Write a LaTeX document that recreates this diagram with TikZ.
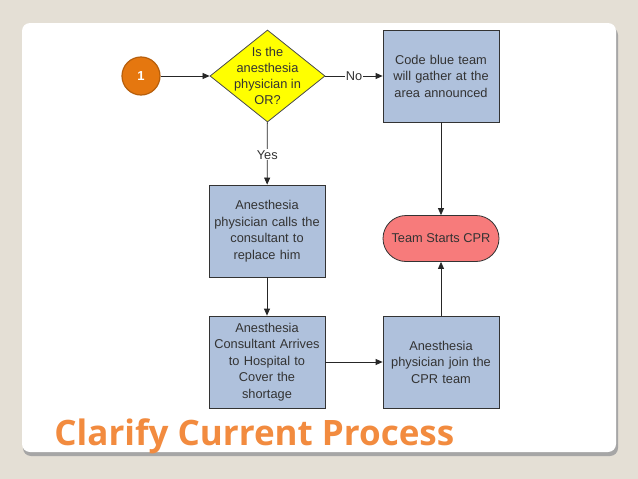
\documentclass[tikz,border=0pt]{standalone}
\usepackage{fontspec}
\setmainfont{Liberation Sans}
\newfontfamily\titlefont{Open Sans}
\usetikzlibrary{shapes.geometric,arrows.meta}
\definecolor{slidebg}{HTML}{E4DFD5}
\definecolor{stepblue}{HTML}{AFC1DC}
\definecolor{askyellow}{HTML}{FFFF00}
\definecolor{cprred}{HTML}{F77B7B}
\definecolor{numorange}{HTML}{E5770F}
\definecolor{titleorange}{HTML}{F28B3F}
\begin{document}
\begin{tikzpicture}[x=1pt,y=-1pt,>={Triangle[length=7pt,width=6pt]},line width=0.8pt]
  \tikzstyle{process}=[rectangle,draw=black!80,fill=stepblue,minimum width=116pt,minimum height=92pt,
    inner sep=2pt,text width=112pt,align=center,font=\fontsize{12.8}{16.5}\selectfont,text=black!80]
  \tikzstyle{decision}=[diamond,draw=black!70,fill=askyellow,minimum width=115pt,minimum height=92pt,inner sep=0pt]
  \tikzstyle{terminal}=[rectangle,rounded corners=23pt,draw=black!80,fill=cprred,minimum width=116pt,
    minimum height=46pt,inner sep=2pt,font=\fontsize{12.8}{16.5}\selectfont,text=black!80]
  \tikzstyle{number}=[circle,draw=numorange!80!black,line width=1.2pt,fill=numorange,minimum size=38pt,
    inner sep=0pt,text=white,font=\bfseries\fontsize{13}{14}\selectfont]
  \tikzstyle{flow}=[draw,->,black!85]
  \tikzstyle{answer}=[fill=white,inner sep=1pt,font=\fontsize{12.8}{16}\selectfont,text=black!80]
  % slide
  \fill[slidebg] (0,0) rectangle (638,479);
  \fill[black!35,rounded corners=8pt] (23,27) rectangle (618,456);
  \fill[white,rounded corners=8pt] (22,23) rectangle (616,452);

  \node[number] (start) at (141,76) {1};
  \node[decision] (ask) at (267.5,76) {};
  \node[align=center,font=\fontsize{12.8}{16}\selectfont,text=black!80,inner sep=0pt] (asktext) at (267.5,76)
    {Is the\\anesthesia\\physician in\\OR?};
  \node[process] (codeblue) at (441,76) {Code blue team\\will gather at the\\area announced\\[26pt]};
  \node[process] (calls) at (267,231) {Anesthesia\\physician calls the\\consultant to\\replace him};
  \node[terminal] (cpr) at (441,238.5) {Team Starts CPR};
  \node[process] (arrives) at (267,362) {Anesthesia\\Consultant Arrives\\to Hospital to\\Cover the\\shortage};
  \node[process] (join) at (441,362) {Anesthesia\\physician join the\\CPR team};

  \draw[flow] (start) -- (ask);
  \draw[flow] (ask) -- node[answer] {No} (codeblue);
  \draw[flow] (ask) -- node[answer,pos=0.52] {Yes} (calls);
  \draw[flow] (codeblue) -- (cpr);
  \draw[flow] (calls) -- (arrives);
  \draw[flow] (arrives) -- (join);
  \draw[flow] (join) -- (cpr);

  \node[anchor=base west,inner sep=0pt,text=titleorange,font=\titlefont\bfseries\fontsize{35}{38}\selectfont]
    (title) at (54,445) {Clarify Current Process};
\end{tikzpicture}
\end{document}
